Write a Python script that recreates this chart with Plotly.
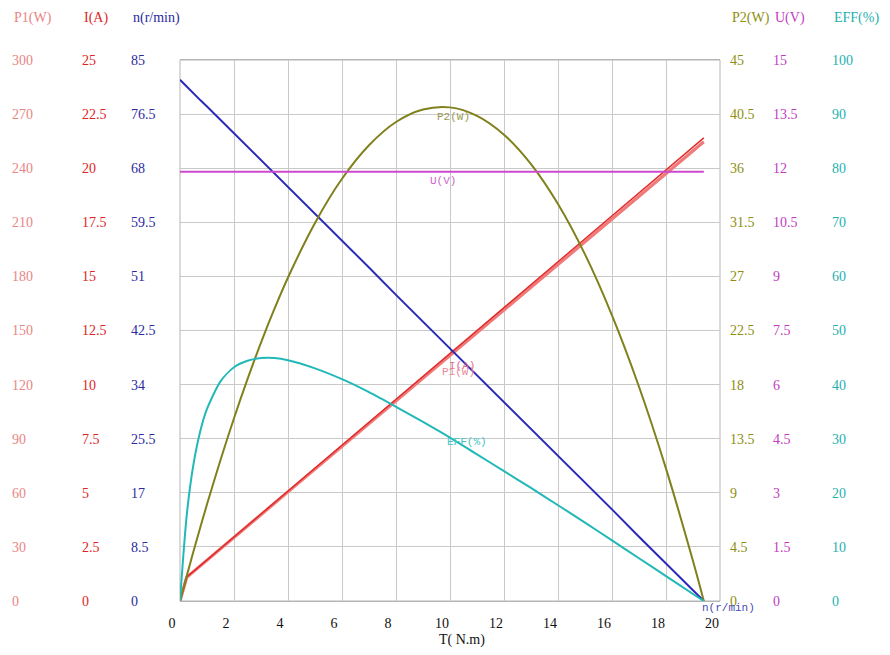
import plotly.graph_objects as go

# ---- data ----
T = [0, 0.25, 0.5, 0.75, 1, 1.5, 2, 2.5, 3, 3.5, 4, 5, 6, 7, 8, 9, 10, 11, 12, 13, 14, 15, 16, 17, 18, 19, 19.4]
P1 = [0, 13.2, 16.3, 19.5, 22.6, 28.9, 35.2, 41.5, 47.8, 54.2, 60.5, 73.1, 85.7, 98.3, 110.9, 123.5,
      136.1, 148.8, 161.4, 174.0, 186.6, 199.2, 211.8, 224.4, 237.0, 249.7, 254.7]
I = [0, 1.11, 1.37, 1.64, 1.90, 2.43, 2.96, 3.49, 4.02, 4.55, 5.08, 6.14, 7.20, 8.26, 9.32, 10.38,
     11.44, 12.50, 13.56, 14.62, 15.68, 16.74, 17.80, 18.86, 19.92, 20.98, 21.40]
N = [81.9, 80.8, 79.8, 78.7, 77.7, 75.6, 73.5, 71.4, 69.2, 67.1, 65.0, 60.8, 56.6, 52.4, 48.1, 43.9,
     39.7, 35.5, 31.2, 27.0, 22.8, 18.6, 14.4, 10.1, 5.9, 1.7, 0]
P2 = [0, 2.09, 4.13, 6.11, 8.04, 11.73, 15.20, 18.45, 21.49, 24.31, 26.91, 31.45, 35.12, 37.91, 39.84,
      40.88, 41.06, 40.36, 38.79, 36.34, 33.02, 28.83, 23.76, 17.82, 11.01, 3.32, 0]
U = [11.9, 11.9, 11.9, 11.9, 11.9, 11.9, 11.9, 11.9, 11.9, 11.9, 11.9, 11.9, 11.9, 11.9, 11.9, 11.9,
     11.9, 11.9, 11.9, 11.9, 11.9, 11.9, 11.9, 11.9, 11.9, 11.9, 11.9]
EFF = [0, 15.9, 25.3, 31.4, 35.5, 40.6, 43.2, 44.4, 44.9, 44.9, 44.5, 43.0, 41.0, 38.6, 35.9, 33.1,
       30.2, 27.1, 24.0, 20.9, 17.7, 14.5, 11.2, 7.9, 4.6, 1.3, 0]

x_ticks = [0, 2, 4, 6, 8, 10, 12, 14, 16, 18, 20]
P1_ticks = ["0", "30", "60", "90", "120", "150", "180", "210", "240", "270", "300"]
I_ticks = ["0", "2.5", "5", "7.5", "10", "12.5", "15", "17.5", "20", "22.5", "25"]
N_ticks = ["0", "8.5", "17", "25.5", "34", "42.5", "51", "59.5", "68", "76.5", "85"]
P2_ticks = ["0", "4.5", "9", "13.5", "18", "22.5", "27", "31.5", "36", "40.5", "45"]
U_ticks = ["0", "1.5", "3", "4.5", "6", "7.5", "9", "10.5", "12", "13.5", "15"]
EFF_ticks = ["0", "10", "20", "30", "40", "50", "60", "70", "80", "90", "100"]

W, H = 890, 655
OFF = 8                    # page body margin of the viewer
PL, PR = 180 - OFF, 720 - OFF   # plot area left/right (figure px)
PT, PB = 60 - OFF, 601 - OFF    # plot area top/bottom (figure px)
SERIF = "Liberation Serif, Times New Roman, serif"
MONO = "Liberation Mono, Courier New, monospace"
PAD = 1
GRID = "#c9c9c9"

# name, data, tick labels, text colour, line colour, line width, column left px (screen), axis id, top
series = [
    ("P1(W)", P1, P1_ticks, "#e98585", "#f07a7a", 3.2, 12, "y", 300),
    ("I(A)", I, I_ticks, "#e02525", "#e02a2a", 1.4, 82, "y2", 25),
    ("n(r/min)", N, N_ticks, "#2b2b9e", "#2a2ab8", 2.0, 131, "y3", 85),
    ("P2(W)", P2, P2_ticks, "#8e8e10", "#80801c", 2.0, 730, "y4", 45),
    ("U(V)", U, U_ticks, "#c23cc2", "#cc48cc", 2.0, 773, "y5", 15),
    ("EFF(%)", EFF, EFF_ticks, "#1fb0b0", "#22b8b8", 2.0, 832, "y6", 100),
]

fig = go.Figure()

draw_order = ["P1(W)", "U(V)", "EFF(%)", "I(A)", "P2(W)", "n(r/min)"]
smoothing = {"P2(W)": 1.0, "EFF(%)": 0.7}
spec = {s[0]: s for s in series}
for name in draw_order:
    nm, vals, ticks, tcol, lcol, lw, colx, ax, top = spec[name]
    smooth = name in smoothing
    fig.add_trace(go.Scatter(
        x=T, y=vals, mode="lines", name=nm, yaxis=ax,
        line=dict(color=lcol, width=lw, shape="spline" if smooth else "linear",
                  smoothing=smoothing.get(name)),
        hoverinfo="skip",
    ))

layout = dict(
    width=W, height=H,
    margin=dict(l=0, r=0, t=PT, b=H - PB),
    paper_bgcolor="white", plot_bgcolor="white",
    showlegend=False,
    xaxis=dict(
        domain=[PL / W, PR / W], range=[0, 20], tickvals=x_ticks,
        showgrid=True, gridcolor=GRID, gridwidth=1,
        showline=True, linecolor="#b5b5b5", linewidth=1, mirror=True,
        zeroline=False, ticks="", tickfont=dict(family=SERIF, size=14, color="#111"),
        ticklabelshift=-8, ticklabelstandoff=9, automargin=False,
    ),
)

annotations = []
for nm, vals, ticks, tcol, lcol, lw, colx, ax, top in series:
    tv = [top * k / 10 for k in range(11)]
    key = "yaxis" if ax == "y" else "yaxis" + ax[1:]
    d = dict(
        anchor="free", side="right", position=(colx - OFF - PAD) / W,
        range=[0, top], tickvals=tv, ticktext=ticks,
        showgrid=False, zeroline=False, showline=False, ticks="",
        tickfont=dict(family=SERIF, size=14, color=tcol), automargin=False,
    )
    if ax == "y":
        d.update(showgrid=True, gridcolor=GRID, gridwidth=1)
    else:
        d["overlaying"] = "y"
    layout[key] = d
    annotations.append(dict(
        xref="paper", yref="paper", x=(colx - OFF) / W, y=(PB - (18 - OFF)) / (PB - PT),
        xanchor="left", yanchor="middle", text=nm, showarrow=False,
        font=dict(family=SERIF, size=14, color=tcol),
    ))

# curve labels near the T = 10 point of each curve (n label at its end)
idx10 = T.index(10)
curve_labels = [
    ("P2(W)", "y4", P2[idx10], 10, -15, -10, "#9a9a55"),
    ("U(V)", "y5", U[idx10], 10, -22, -9, "#cc66cc"),
    ("I(A)", "y2", I[idx10], 10, -3, -13, "#e06a8a"),
    ("P1(W)", "y", P1[idx10], 10, -10, -16, "#e88a9a"),
    ("EFF(%)", "y6", EFF[idx10], 10, -5, -4, "#44c4c4"),
    ("n(r/min)", "y3", N[-1], T[-1], -4, -7, "#4a4ab0"),
]
for txt, ax, yv, xv, xs, ys, col in curve_labels:
    annotations.append(dict(
        xref="x", yref=ax, x=xv, y=yv, xshift=xs, yshift=ys,
        xanchor="left", yanchor="middle", text=txt, showarrow=False,
        font=dict(family=MONO, size=11, color=col),
    ))

# x-axis title
annotations.append(dict(
    xref="paper", yref="paper", x=(437 - OFF) / W, y=(PB - (640 - OFF)) / (PB - PT),
    xanchor="left", yanchor="middle", text="T( N.m)", showarrow=False,
    font=dict(family=SERIF, size=14, color="#111"),
))

layout["annotations"] = annotations
layout["shapes"] = [dict(
    type="rect", xref="x domain", yref="y domain", x0=0, x1=1, y0=0, y1=1,
    line=dict(color="#b5b5b5", width=1), layer="below",
)]
fig.update_layout(**layout)
fig.write_html("out.html")
